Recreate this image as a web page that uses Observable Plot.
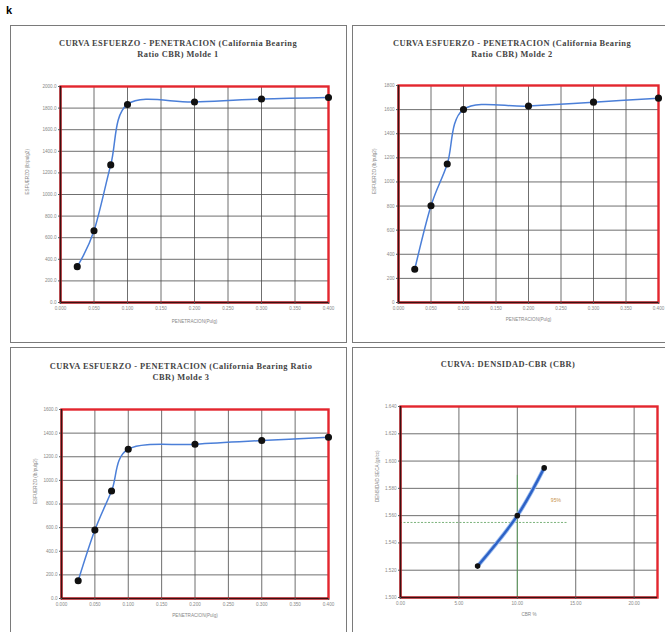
<!DOCTYPE html>
<html><head><meta charset="utf-8">
<script src="https://cdn.jsdelivr.net/npm/d3@7"></script>
<script src="https://cdn.jsdelivr.net/npm/@observablehq/plot@0.6"></script>
<style>
body{margin:0;background:#fff;width:665px;height:632px;overflow:hidden;position:relative;font-family:"Liberation Serif",serif}
.panel{position:absolute;border:1.5px solid #7a7a7a;box-sizing:border-box;background:#fff}
.title{position:absolute;font-weight:bold;font-size:8.4px;letter-spacing:0.45px;text-align:center;line-height:11px;color:#444;white-space:nowrap}
svg.p{position:absolute;overflow:visible}
</style></head><body>
<script>
// ---- data ----
const penetracion = [0.025, 0.05, 0.075, 0.1, 0.2, 0.3, 0.4];
const xTicksPen = [0, 0.05, 0.1, 0.15, 0.2, 0.25, 0.3, 0.35, 0.4];
const molde1 = [332, 664, 1274, 1834, 1856, 1884, 1898];
const molde2 = [276, 802, 1149, 1601, 1629, 1662, 1695];
const molde3 = [150, 579, 910, 1264, 1306, 1337, 1365];
const yTicks1 = [0, 200, 400, 600, 800, 1000, 1200, 1400, 1600, 1800, 2000];
const yTicks2 = [0, 200, 400, 600, 800, 1000, 1200, 1400, 1600, 1800];
const yTicks3 = [0, 200, 400, 600, 800, 1000, 1200, 1400, 1600];
const cbr = [6.6, 10.0, 12.3];
const densidad = [1.523, 1.560, 1.595];
const xTicksCbr = [0, 5, 10, 15, 20];
const yTicksDens = [1.50, 1.52, 1.54, 1.56, 1.58, 1.60, 1.62, 1.64];
const cbrRef = 10;          // CBR at 95%
const densRef = 1.555;      // 95% of max dry density
const titles = [
  ["CURVA ESFUERZO - PENETRACION (California Bearing", "Ratio CBR) Molde 1"],
  ["CURVA ESFUERZO - PENETRACION (California Bearing", "Ratio CBR) Molde 2"],
  ["CURVA ESFUERZO - PENETRACION (California Bearing Ratio", "CBR) Molde 3"],
  ["CURVA:  DENSIDAD-CBR (CBR)"]
];
const yLabelEsf = "ESFUERZO (lb/pulg2)";
const xLabelPen = "PENETRACION(Pulg)";
const yLabelDens = "DENSIDAD SECA (gr/cc)";
const xLabelCbr = "CBR %";

// ---- layout helpers ----
function panel(box){
  const d = document.createElement("div");
  d.className = "panel";
  d.style.left = box[0]+"px"; d.style.top = box[1]+"px";
  d.style.width = (box[2]-box[0])+"px"; d.style.height = (box[3]-box[1])+"px";
  document.body.appendChild(d);
}
function title(lines, cx, top){
  const d = document.createElement("div");
  d.className = "title";
  d.style.left = (cx-200)+"px"; d.style.width = "400px"; d.style.top = top+"px";
  d.innerHTML = lines.join("<br>");
  document.body.appendChild(d);
}
function chart(o){
  const [sx0, sy0, sx1, sy1] = o.svg;
  const [px0, py0, px1, py1] = o.plot;
  const data = o.xs.map((x,i)=>({x, y:o.ys[i]}));
  const marks = [
    Plot.gridX(o.xTicks, {stroke:"#4a4a4a", strokeOpacity:1, strokeWidth:0.8}),
    Plot.gridY(o.yTicks, {stroke:"#4a4a4a", strokeOpacity:1, strokeWidth:0.8}),
    ...(o.extra || []),
    Plot.frame({stroke:"#e3262e", strokeWidth:2.4}),
    Plot.ruleX([o.xDomain[0]], {stroke:"#3a1010", strokeWidth:1.6}),
    Plot.ruleY([o.yDomain[0]], {stroke:"#3a1010", strokeWidth:1.6}),
    Plot.axisX(o.xTicks, {tickSize:2, tickPadding:2, fontSize:4.6, fill:"#888", stroke:"#555", tickFormat:o.xFmt, label:null}),
    Plot.axisY(o.yTicks, {tickSize:2, tickPadding:2, fontSize:4.6, fill:"#888", stroke:"#555", tickFormat:o.yFmt, label:null}),
    ...(o.lineMarks ? o.lineMarks(data) : [
      Plot.line(data, {x:"x", y:"y", curve:"cardinal", stroke:"#4b7fd8", strokeWidth:1.5}),
      Plot.dot(data, {x:"x", y:"y", r:2.8, fill:"#111", stroke:"#111", symbol:"circle"})
    ]),
    Plot.text([o.yLabel], {frameAnchor:"left", dx:o.yLabDx, rotate:-90, fontSize:4.6, fill:"#888", text:d=>d}),
    Plot.text([o.xLabel], {frameAnchor:"bottom", dy:o.xLabDy, fontSize:4.6, fill:"#888", text:d=>d})
  ];
  const svg = Plot.plot({
    width: sx1-sx0, height: sy1-sy0,
    marginLeft: px0-sx0, marginRight: sx1-px1, marginTop: py0-sy0, marginBottom: sy1-py1,
    style:{background:"transparent", fontFamily:"Liberation Sans, sans-serif"},
    x:{domain:o.xDomain}, y:{domain:o.yDomain},
    marks
  });
  svg.classList.add("p");
  svg.style.left = sx0+"px"; svg.style.top = sy0+"px";
  document.body.appendChild(svg);
}

// top-left stray glyph
const k = document.createElement("div");
k.textContent = "k";
k.style.cssText = "position:absolute;left:6px;top:4px;font:bold 11px 'Liberation Sans',sans-serif;color:#000";
document.body.appendChild(k);

panel([10,25,347,343]);
panel([352,25,668,343]);
panel([10,347,347,640]);
panel([352,347,668,640]);

title(titles[0], 178, 37.5);
title(titles[1], 512, 37.5);
title(titles[2], 181, 360.5);
title(titles[3], 508, 358.5);

const penFmt = d3.format(".3f");
chart({svg:[10,25,347,343], plot:[60,86,328,302], xs:penetracion, ys:molde1,
  xDomain:[0,0.4], yDomain:[0,2000], xTicks:xTicksPen, yTicks:yTicks1, xFmt:penFmt, yFmt:d3.format(".1f"),
  yLabel:yLabelEsf, xLabel:xLabelPen, yLabDx:-33, xLabDy:20});
chart({svg:[352,25,665,343], plot:[398,85,658,302], xs:penetracion, ys:molde2,
  xDomain:[0,0.4], yDomain:[0,1800], xTicks:xTicksPen, yTicks:yTicks2, xFmt:penFmt, yFmt:d3.format("d"),
  yLabel:yLabelEsf, xLabel:xLabelPen, yLabDx:-24, xLabDy:18});
chart({svg:[10,347,347,632], plot:[61,409,328,598], xs:penetracion, ys:molde3,
  xDomain:[0,0.4], yDomain:[0,1600], xTicks:xTicksPen, yTicks:yTicks3, xFmt:penFmt, yFmt:d3.format(".1f"),
  yLabel:yLabelEsf, xLabel:xLabelPen, yLabDx:-26, xLabDy:18});
chart({svg:[352,347,665,632], plot:[400,406,657,597], xs:cbr, ys:densidad,
  xDomain:[0,22], yDomain:[1.50,1.64], xTicks:xTicksCbr, yTicks:yTicksDens, xFmt:d3.format(".2f"), yFmt:d3.format(".3f"),
  yLabel:yLabelDens, xLabel:xLabelCbr, yLabDx:-23, xLabDy:18,
  extra:[
    Plot.ruleY([densRef], {x1:0, x2:14.3, stroke:"#5aa05a", strokeWidth:0.8, strokeDasharray:"2,1.5"}),
    Plot.ruleX([cbrRef], {y1:1.50, y2:1.5895, stroke:"#5aa05a", strokeWidth:0.9}),
    Plot.text(["95%"], {x:[13.3], y:[1.571], text:d=>d, fontSize:5, fill:"#c8924a"})
  ],
  lineMarks:data=>[
    Plot.line(data, {x:"x", y:"y", curve:"catmull-rom", stroke:"#9bbcf0", strokeWidth:4.2}),
    Plot.line(data, {x:"x", y:"y", curve:"catmull-rom", stroke:"#2d62c6", strokeWidth:2.4}),
    Plot.dot(data, {x:"x", y:"y", r:2.8, fill:"#111"})
  ]});
</script>
</body></html>
